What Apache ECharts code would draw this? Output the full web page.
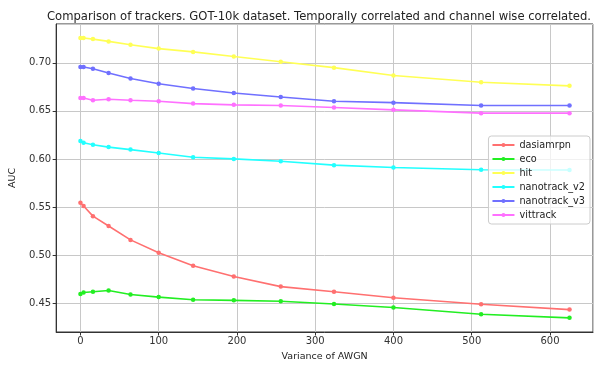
<!DOCTYPE html>
<html><head><meta charset="utf-8">
<script src="https://cdn.jsdelivr.net/npm/echarts@6/dist/echarts.min.js"></script>
<style>html,body{margin:0;padding:0;background:#fff}#c{width:595px;height:367px}</style>
</head><body><div id="c"></div>
<script>
const xValues = [0, 4, 16, 36, 64, 100, 144, 196, 256, 324, 400, 512, 625];
const dasiamrpn   = [0.5545, 0.5511, 0.5405, 0.5302, 0.5158, 0.5025, 0.4888, 0.4778, 0.4672, 0.4618, 0.4556, 0.4488, 0.4433];
const eco         = [0.4594, 0.4611, 0.4618, 0.4631, 0.4590, 0.4563, 0.4536, 0.4529, 0.4519, 0.4491, 0.4454, 0.4385, 0.4347];
const hit         = [0.7257, 0.7257, 0.7246, 0.7222, 0.7188, 0.7147, 0.7113, 0.7065, 0.7010, 0.6949, 0.6867, 0.6798, 0.6760];
const nanotrack_v2 = [0.6185, 0.6168, 0.6148, 0.6123, 0.6097, 0.6062, 0.6017, 0.6000, 0.5976, 0.5935, 0.5910, 0.5888, 0.5885];
const nanotrack_v3 = [0.6955, 0.6955, 0.6938, 0.6893, 0.6836, 0.6781, 0.6733, 0.6685, 0.6644, 0.6600, 0.6585, 0.6555, 0.6555];
const vittrack    = [0.6633, 0.6633, 0.6610, 0.6620, 0.6610, 0.6600, 0.6575, 0.6562, 0.6555, 0.6534, 0.6510, 0.6476, 0.6476];
const seriesNames = ['dasiamrpn', 'eco', 'hit', 'nanotrack_v2', 'nanotrack_v3', 'vittrack'];
const seriesData = [dasiamrpn, eco, hit, nanotrack_v2, nanotrack_v3, vittrack];
const colors = ['#ff7070', '#22ee22', '#ffff55', '#22ffff', '#7070ff', '#ff70ff'];
const titleText = 'Comparison of trackers. GOT-10k dataset. Temporally correlated and channel wise correlated.';

const font = 'DejaVu Sans';
const chart = echarts.init(document.getElementById('c'), null, {renderer: 'canvas'});
chart.setOption({
  animation: false,
  backgroundColor: '#fff',
  title: {
    text: titleText, left: 42, top: 6,
    textStyle: {fontFamily: font, fontSize: 11.6, fontWeight: 'normal', color: '#222'}
  },
  grid: {left: 55, right: 2, top: 24, bottom: 31, show: true, borderColor: '#333', borderWidth: 1, backgroundColor: 'transparent'},
  legend: {
    orient: 'vertical', right: 5, top: 136,
    backgroundColor: 'rgba(255,255,255,0.75)', borderColor: '#ccc', borderWidth: 1, borderRadius: 3,
    padding: [4, 5, 4, 3], itemGap: 4, itemWidth: 22, itemHeight: 5, itemTextGap: 7,
    textStyle: {fontFamily: font, fontSize: 9.7, color: '#222'},
    data: seriesNames
  },
  xAxis: {
    type: 'value', min: -31, max: 655, splitNumber: 7,
    name: 'Variance of AWGN', nameLocation: 'middle', nameGap: 20,
    nameTextStyle: {fontFamily: font, fontSize: 9.5, color: '#222'},
    axisLine: {show: true, onZero: false, lineStyle: {color: '#333'}},
    axisTick: {show: true, length: 3.5, lineStyle: {color: '#333'}},
    axisLabel: {fontFamily: font, fontSize: 10, color: '#333', margin: 4, showMinLabel: false, showMaxLabel: false},
    splitLine: {show: true, lineStyle: {color: '#c8c8c8', width: 1}}
  },
  yAxis: {
    type: 'value', min: 0.42, max: 0.7403, splitNumber: 6,
    name: 'AUC', nameLocation: 'middle', nameGap: 37, nameRotate: 90,
    nameTextStyle: {fontFamily: font, fontSize: 9.5, color: '#222'},
    axisLine: {show: true, onZero: false, lineStyle: {color: '#333'}},
    axisTick: {show: true, length: 3.5, lineStyle: {color: '#333'}},
    axisLabel: {fontFamily: font, fontSize: 10, color: '#333', margin: 5, showMinLabel: false, showMaxLabel: false,
      formatter: v => v.toFixed(2)},
    splitLine: {show: true, lineStyle: {color: '#c8c8c8', width: 1}}
  },
  series: seriesNames.map((n, i) => ({
    name: n, type: 'line',
    data: xValues.map((x, j) => [x, seriesData[i][j]]),
    symbol: 'circle', symbolSize: 4.5, showSymbol: true,
    itemStyle: {color: colors[i]},
    lineStyle: {color: colors[i], width: 1.6}
  }))
});
</script></body></html>
